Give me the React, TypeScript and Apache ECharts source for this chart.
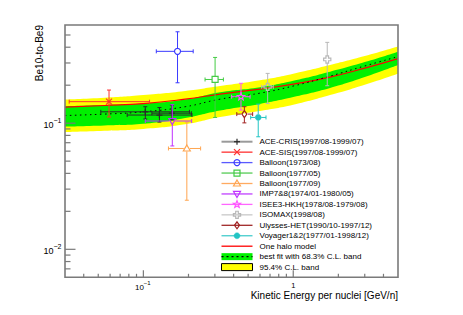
import React, { useEffect, useRef } from 'react';
import * as echarts from 'echarts';

// ---------- axis ranges ----------
const X_MIN = 0.03;
const X_MAX = 5;
const Y_MIN = 0.006;
const Y_MAX = 0.6;

// ---------- model curves ----------
const bandEnergy = [0.03, 0.055, 0.1, 0.19, 0.325, 0.6, 1.0, 1.76, 3.0, 5.0];
const yellowUpper = [0.154, 0.159, 0.167, 0.18, 0.197, 0.219, 0.247, 0.289, 0.34, 0.405];
const yellowLower = [0.085, 0.087, 0.09, 0.098, 0.112, 0.125, 0.14, 0.167, 0.202, 0.247];
const greenUpper = [0.136, 0.139, 0.143, 0.154, 0.176, 0.193, 0.217, 0.256, 0.305, 0.369];
const greenLower = [0.094, 0.096, 0.099, 0.11, 0.126, 0.142, 0.161, 0.19, 0.232, 0.289];
const oneHaloModel = [0.134, 0.138, 0.143, 0.155, 0.17, 0.186, 0.204, 0.232, 0.273, 0.325];
const bestFit = [0.115, 0.118, 0.123, 0.135, 0.155, 0.173, 0.197, 0.236, 0.284, 0.337];

// ---------- measurements: [E, ratio, E_low, E_high, ratio_low, ratio_high] ----------
const aceCris = [
  [0.103, 0.123, 0.052, 0.203, 0.108, 0.135],
  [0.128, 0.116, 0.078, 0.211, 0.102, 0.133],
  [0.155, 0.12, 0.114, 0.209, 0.106, 0.139],
];
const aceSis = [[0.059, 0.148, 0.032, 0.11, 0.112, 0.183]];
const balloon1973 = [[0.169, 0.371, 0.122, 0.215, 0.209, 0.53]];
const balloon1977May = [[0.301, 0.222, 0.258, 0.342, 0.111, 0.332]];
const balloon1977Sep = [[0.195, 0.063, 0.147, 0.241, 0.0245, 0.102]];
const imp78 = [[0.156, 0.104, 0.103, 0.21, 0.066, 0.14]];
const isee3 = [[0.448, 0.162, 0.388, 0.515, 0.127, 0.207]];
const isomax = [
  [0.675, 0.194, 0.616, 0.736, 0.143, 0.248],
  [1.686, 0.32, 1.609, 1.775, 0.198, 0.437],
];
const ulysses = [[0.472, 0.118, 0.42, 0.536, 0.1005, 0.135]];
const voyager = [[0.584, 0.111, 0.52, 0.658, 0.078, 0.1415]];

// ---------- labels ----------
const legendLabels = [
  'ACE-CRIS(1997/08-1999/07)',
  'ACE-SIS(1997/08-1999/07)',
  'Balloon(1973/08)',
  'Balloon(1977/05)',
  'Balloon(1977/09)',
  'IMP7&8(1974/01-1980/05)',
  'ISEE3-HKH(1978/08-1979/08)',
  'ISOMAX(1998/08)',
  'Ulysses-HET(1990/10-1997/12)',
  'Voyager1&2(1977/01-1998/12)',
  'One halo model',
  'best fit with 68.3% C.L. band',
  '95.4% C.L. band',
];
const xTitle = 'Kinetic Energy per nuclei [GeV/n]';
const yTitle = 'Be10-to-Be9';

const xMajorTicks = [0.1, 1];
const xMinorTicks = [0.04, 0.05, 0.06, 0.07, 0.08, 0.09, 0.2, 0.3, 0.4, 0.5, 0.6, 0.7, 0.8, 0.9, 2, 3, 4];
const yMajorTicks = [0.01, 0.1];
const yMinorTicks = [0.007, 0.008, 0.009, 0.02, 0.03, 0.04, 0.05, 0.06, 0.07, 0.08, 0.09, 0.2, 0.3, 0.4, 0.5];
const xTickLabels = [
  [0.1, '10', '−1'],
  [1, '1', ''],
];
const yTickLabels = [
  [0.01, '10', '−2'],
  [0.1, '10', '−1'],
];

const FONT = '"Liberation Sans", Arial, Helvetica, sans-serif';
const FRAME = '#7a7a7a';

// ---------- marker drawing ----------
function markerEls(kind: string, cx: number, cy: number, color: string): any[] {
  const st = { stroke: color, lineWidth: 1.2, fill: 'none' };
  const ln = (x1: number, y1: number, x2: number, y2: number) => ({
    type: 'line', shape: { x1, y1, x2, y2 }, style: { stroke: color, lineWidth: 1.2 },
  });
  switch (kind) {
    case 'plus':
      return [ln(cx - 3, cy, cx + 3, cy), ln(cx, cy - 3, cx, cy + 3)];
    case 'x':
      return [ln(cx - 3, cy - 3, cx + 3, cy + 3), ln(cx - 3, cy + 3, cx + 3, cy - 3)];
    case 'circle':
      return [{ type: 'circle', shape: { cx, cy, r: 3 }, style: st }];
    case 'dot':
      return [{ type: 'circle', shape: { cx, cy, r: 3 }, style: { fill: color, stroke: color, lineWidth: 0.5 } }];
    case 'square':
      return [{ type: 'rect', shape: { x: cx - 3, y: cy - 3, width: 6, height: 6 }, style: st }];
    case 'triUp':
      return [{ type: 'polygon', shape: { points: [[cx, cy - 3.5], [cx + 3.5, cy + 2.5], [cx - 3.5, cy + 2.5]] }, style: st }];
    case 'triDown':
      return [{ type: 'polygon', shape: { points: [[cx, cy + 3.5], [cx + 3.5, cy - 2.5], [cx - 3.5, cy - 2.5]] }, style: st }];
    case 'diamond':
      return [{ type: 'polygon', shape: { points: [[cx, cy - 3.5], [cx + 2.5, cy], [cx, cy + 3.5], [cx - 2.5, cy]] }, style: st }];
    case 'star': {
      const pts: number[][] = [];
      for (let i = 0; i < 10; i++) {
        const r = i % 2 === 0 ? 3.8 : 1.6;
        const a = -Math.PI / 2 + (i * Math.PI) / 5;
        pts.push([cx + r * Math.cos(a), cy + r * Math.sin(a)]);
      }
      return [{ type: 'polygon', shape: { points: pts }, style: st }];
    }
    case 'openCross': {
      const a = 1.3, L = 3.6;
      const p = [[-a, -L], [a, -L], [a, -a], [L, -a], [L, a], [a, a], [a, L], [-a, L], [-a, a], [-L, a], [-L, -a], [-a, -a]];
      return [{ type: 'polygon', shape: { points: p.map(([x, y]) => [cx + x, cy + y]) }, style: st }];
    }
  }
  return [];
}
const markerGap: Record<string, number> = {
  plus: 0, x: 0, circle: 3, dot: 3, square: 3, triUp: 3, triDown: 3, diamond: 3.5, star: 3.5, openCross: 3.6,
};

const experiments = [
  { data: aceCris, kind: 'plus', color: '#2a2a2a', legendLine: '#9a9a9a' },
  { data: aceSis, kind: 'x', color: '#ff3030', legendLine: '#ff3030' },
  { data: balloon1973, kind: 'circle', color: '#3a3aff', legendLine: '#5a5aff' },
  { data: balloon1977May, kind: 'square', color: '#44cc44', legendLine: '#55cc55' },
  { data: balloon1977Sep, kind: 'triUp', color: '#ffa550', legendLine: '#ffaa60' },
  { data: imp78, kind: 'triDown', color: '#c030ff', legendLine: '#c040ff' },
  { data: isee3, kind: 'star', color: '#ff55ff', legendLine: '#ff66ff' },
  { data: isomax, kind: 'openCross', color: '#b8b8b8', legendLine: '#c8c8c8' },
  { data: ulysses, kind: 'diamond', color: '#a02020', legendLine: '#a02828' },
  { data: voyager, kind: 'dot', color: '#22c4c4', legendLine: '#44cccc' },
];

function pointRenderer(kind: string, color: string) {
  return (_params: any, api: any) => {
    const c = api.coord([api.value(0), api.value(1)]);
    const lo = api.coord([api.value(2), api.value(4)]);
    const hi = api.coord([api.value(3), api.value(5)]);
    const gap = markerGap[kind];
    const cap = 2;
    const s = { stroke: color, lineWidth: 1 };
    const L = (x1: number, y1: number, x2: number, y2: number) => ({ type: 'line', shape: { x1, y1, x2, y2 }, style: s });
    const ch: any[] = [];
    if (lo[0] < c[0] - gap) { ch.push(L(lo[0], c[1], c[0] - gap, c[1])); ch.push(L(lo[0], c[1] - cap, lo[0], c[1] + cap)); }
    if (hi[0] > c[0] + gap) { ch.push(L(c[0] + gap, c[1], hi[0], c[1])); ch.push(L(hi[0], c[1] - cap, hi[0], c[1] + cap)); }
    if (lo[1] > c[1] + gap) { ch.push(L(c[0], c[1] + gap, c[0], lo[1])); ch.push(L(c[0] - cap, lo[1], c[0] + cap, lo[1])); }
    if (hi[1] < c[1] - gap) { ch.push(L(c[0], hi[1], c[0], c[1] - gap)); ch.push(L(c[0] - cap, hi[1], c[0] + cap, hi[1])); }
    return { type: 'group', children: ch.concat(markerEls(kind, c[0], c[1], color)) };
  };
}

const pairs = (ys: number[]) => bandEnergy.map((x, i) => [x, ys[i]]);

function areaSeries(ys: number[], fill: string) {
  return {
    type: 'line', data: pairs(ys), smooth: true, symbol: 'none', silent: true,
    lineStyle: { width: 0 }, areaStyle: { color: fill, opacity: 1, origin: 'start' },
  };
}

function buildOption(): any {
  // painter's order: each fill reaches down to the axis floor, the next one covers what lies below it
  const series: any[] = [
    areaSeries(yellowUpper, '#ffff00'),
    areaSeries(greenUpper, '#00f000'),
    areaSeries(greenLower, '#ffff00'),
    areaSeries(yellowLower, '#ffffff'),
    { type: 'line', data: pairs(oneHaloModel), smooth: true, symbol: 'none', silent: true, lineStyle: { color: '#ff0000', width: 1.2 } },
    { type: 'line', data: pairs(bestFit), smooth: true, symbol: 'none', silent: true, lineStyle: { color: '#000000', width: 1, type: [1.5, 3.5] } },
  ];
  experiments.forEach((e) => {
    series.push({
      type: 'custom', coordinateSystem: 'cartesian2d', data: e.data, clip: true, silent: true, z: 5,
      renderItem: pointRenderer(e.kind, e.color),
    });
  });
  // ticks
  const tickSeries = (vals: number[], axis: 'x' | 'y', len: number) => ({
    type: 'custom', coordinateSystem: 'cartesian2d', silent: true, z: 20, clip: false,
    data: vals.map((v) => (axis === 'x' ? [v, Y_MIN] : [X_MIN, v])),
    renderItem: (_p: any, api: any) => {
      const p = api.coord([api.value(0), api.value(1)]);
      const shape = axis === 'x'
        ? { x1: p[0], y1: p[1], x2: p[0], y2: p[1] - len }
        : { x1: p[0], y1: p[1], x2: p[0] + len, y2: p[1] };
      return { type: 'line', shape, style: { stroke: FRAME, lineWidth: 1.2 } };
    },
  });
  series.push(tickSeries(xMajorTicks, 'x', 7));
  series.push(tickSeries(xMinorTicks, 'x', 3.5));
  series.push(tickSeries(yMajorTicks, 'y', 10.5));
  series.push(tickSeries(yMinorTicks, 'y', 5.5));
  // tick labels
  series.push({
    type: 'custom', coordinateSystem: 'cartesian2d', silent: true, z: 20, clip: false,
    data: xTickLabels.map((t) => [t[0], Y_MIN]),
    renderItem: (params: any, api: any) => {
      const t = xTickLabels[params.dataIndex];
      const p = api.coord([api.value(0), api.value(1)]);
      const exp = t[2] as string;
      const ch: any[] = [];
      ch.push({
        type: 'text', x: exp ? p[0] + 0.5 : p[0], y: exp ? p[1] + 10 : p[1] + 8.5,
        style: { text: t[1], fill: '#000', fontSize: exp ? 8 : 7.5, fontFamily: FONT, align: exp ? 'right' : 'center', verticalAlign: 'middle' },
      });
      if (exp) {
        ch.push({
          type: 'text', x: p[0] + 0.5, y: p[1] + 6,
          style: { text: exp, fill: '#000', fontSize: 6, fontFamily: FONT, align: 'left', verticalAlign: 'middle' },
        });
      }
      return { type: 'group', children: ch };
    },
  });
  series.push({
    type: 'custom', coordinateSystem: 'cartesian2d', silent: true, z: 20, clip: false,
    data: yTickLabels.map((t) => [X_MIN, t[0]]),
    renderItem: (params: any, api: any) => {
      const t = yTickLabels[params.dataIndex];
      const p = api.coord([api.value(0), api.value(1)]);
      return {
        type: 'group',
        children: [
          {
            type: 'text', x: p[0] - 11.5, y: p[1] + 1.5,
            style: { text: t[1], fill: '#000', fontSize: 9, fontFamily: FONT, align: 'right', verticalAlign: 'middle' },
          },
          {
            type: 'text', x: p[0] - 11.5, y: p[1] - 2.5,
            style: { text: t[2], fill: '#000', fontSize: 7, fontFamily: FONT, align: 'left', verticalAlign: 'middle' },
          },
        ],
      };
    },
  });

  // legend (drawn as graphic)
  const gx0 = 221.5, gx1 = 252.5, gmx = 237, gtx = 259.5, gy0 = 141.7, gdy = 10.45;
  const graphics: any[] = [];
  legendLabels.forEach((label, i) => {
    const y = gy0 + i * gdy;
    if (i < experiments.length) {
      const e = experiments[i];
      graphics.push({ type: 'line', shape: { x1: gx0, y1: y, x2: gx1, y2: y }, style: { stroke: e.legendLine, lineWidth: i === 0 ? 2 : 1.3 }, z: 50 });
      markerEls(e.kind, gmx, y, e.color).forEach((m) => graphics.push({ ...m, z: 51 }));
    } else if (i === 10) {
      graphics.push({ type: 'line', shape: { x1: gx0, y1: y, x2: gx1, y2: y }, style: { stroke: '#ff0000', lineWidth: 1.3 }, z: 50 });
    } else if (i === 11) {
      graphics.push({ type: 'rect', shape: { x: gx0, y: y - 3.5, width: gx1 - gx0, height: 7 }, style: { fill: '#00f000', stroke: 'none' }, z: 50 });
      graphics.push({ type: 'line', shape: { x1: gx0, y1: y, x2: gx1, y2: y }, style: { stroke: '#000', lineWidth: 1.2, lineDash: [2, 3] }, z: 51 });
    } else {
      graphics.push({ type: 'rect', shape: { x: gx0, y: y - 3.5, width: gx1 - gx0, height: 7 }, style: { fill: '#ffff00', stroke: '#000', lineWidth: 1 }, z: 50 });
    }
    graphics.push({
      type: 'text', x: gtx, y, z: 52,
      style: { text: label, fill: '#000', fontSize: 8, fontFamily: FONT, align: 'left', verticalAlign: 'middle', textAlign: 'left', textVerticalAlign: 'middle' },
    });
  });
  // frame
  graphics.push({ type: 'rect', shape: { x: 65, y: 25, width: 333, height: 252.3 }, style: { fill: 'none', stroke: FRAME, lineWidth: 1.6 }, z: 60 });
  // axis titles
  graphics.push({
    type: 'text', x: 398, y: 295.5, z: 60,
    style: { text: xTitle, fill: '#000', fontSize: 10, fontFamily: FONT, align: 'right', verticalAlign: 'middle', textAlign: 'right', textVerticalAlign: 'middle' },
  });
  graphics.push({
    type: 'text', x: 39, y: 25, rotation: Math.PI / 2, z: 60,
    style: { text: yTitle, fill: '#000', fontSize: 10, fontFamily: FONT, align: 'right', verticalAlign: 'middle', textAlign: 'right', textVerticalAlign: 'middle' },
  });

  const hiddenAxis = {
    axisLine: { show: false }, axisTick: { show: false }, axisLabel: { show: false }, splitLine: { show: false },
  };
  return {
    animation: false,
    backgroundColor: '#ffffff',
    grid: { left: 65, right: 65, top: 25, bottom: 37.7, show: false },
    xAxis: { type: 'log', logBase: 10, min: X_MIN, max: X_MAX, ...hiddenAxis },
    yAxis: { type: 'log', logBase: 10, min: Y_MIN, max: Y_MAX, ...hiddenAxis },
    series,
    graphic: { elements: graphics },
  };
}

export default function App() {
  const ref = useRef<HTMLDivElement>(null);
  useEffect(() => {
    const chart = echarts.init(ref.current!, null, { renderer: 'svg' });
    chart.setOption(buildOption());
    return () => chart.dispose();
  }, []);
  return <div ref={ref} style={{ position: 'fixed', left: 0, top: 0, width: 463, height: 315 }} />;
}
